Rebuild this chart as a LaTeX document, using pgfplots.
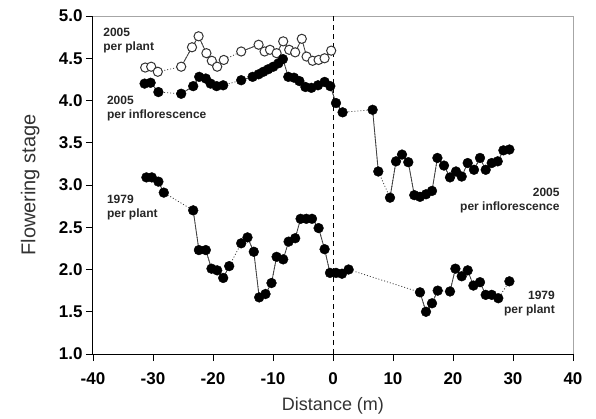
\documentclass[border=0pt]{standalone}
\usepackage{pgfplots}
\pgfplotsset{compat=1.18}
\usepackage{pgfplotstable}
\usepackage{fontspec}
\setmainfont{Liberation Sans}

% 2005 per plant (open circles); nan rows mark gaps (dotted links)
\pgfplotstableread{
x y
-31.3 4.39
-30.3 4.40
-29.2 4.34
nan nan
-25.3 4.40
-23.5 4.63
-22.4 4.76
-21.1 4.56
-20.2 4.47
-19.3 4.40
-18.2 4.48
nan nan
-15.3 4.58
-12.4 4.66
-11.4 4.58
-10.5 4.60
-9.4 4.56
-8.3 4.70
-7.3 4.60
-6.3 4.57
-5.2 4.73
-4.4 4.52
-3.4 4.47
-2.4 4.48
-1.4 4.50
-0.3 4.59
}\plantA

% 2005 per inflorescence
\pgfplotstableread{
x y
-31.4 4.20
-30.4 4.21
-29.1 4.10
nan nan
-25.3 4.08
-23.3 4.17
-22.3 4.28
-21.2 4.26
-20.4 4.20
-19.4 4.17
-18.3 4.18
nan nan
-15.3 4.24
-13.4 4.28
-12.4 4.31
-11.6 4.34
-10.8 4.37
-9.95 4.40
-9.1 4.44
-8.35 4.49
-7.45 4.28
-6.5 4.27
-5.6 4.23
-4.6 4.16
-3.6 4.15
-2.5 4.18
-1.4 4.22
-0.45 4.17
0.5 3.97
1.6 3.86
nan nan
6.6 3.89
7.55 3.16
nan nan
9.5 2.85
10.5 3.28
11.5 3.36
12.55 3.27
13.55 2.88
14.5 2.86
15.5 2.89
16.5 2.93
17.4 3.32
18.5 3.23
19.5 3.09
20.5 3.16
21.45 3.10
22.45 3.26
23.5 3.18
24.5 3.32
25.45 3.18
26.45 3.26
27.45 3.28
28.4 3.41
29.4 3.42
}\inflB

% 1979 per plant
\pgfplotstableread{
x y
-31.1 3.09
-30.2 3.09
-29.1 3.04
-28.2 2.91
nan nan
-23.3 2.70
-22.35 2.23
-21.2 2.23
-20.25 2.01
-19.3 1.99
-18.3 1.90
-17.3 2.04
nan nan
-15.3 2.31
-14.25 2.38
-13.2 2.21
-12.3 1.67
-11.25 1.71
-10.25 1.84
-9.4 2.15
-8.3 2.12
-7.4 2.33
-6.3 2.37
-5.4 2.60
-4.45 2.60
-3.5 2.60
-2.4 2.49
-1.4 2.24
-0.5 1.96
0.5 1.96
1.5 1.95
2.6 2.00
nan nan
14.5 1.73
15.5 1.50
16.5 1.60
17.45 1.75
nan nan
19.5 1.74
20.4 2.01
21.45 1.92
22.45 1.99
23.4 1.81
24.5 1.85
25.45 1.70
26.45 1.70
27.55 1.66
nan nan
29.4 1.86
}\plantC

\begin{document}
\begin{tikzpicture}
\useasboundingbox (-93pt,-64pt) rectangle (503pt,354pt);
\begin{axis}[
  scale only axis, width=480pt, height=338pt,
  xmin=-40, xmax=40, ymin=1, ymax=5,
  axis lines*=left,
  axis line style={black, line width=1pt},
  xtick={-40,-30,...,40}, ytick={1,1.5,...,5},
  yticklabel style={/pgf/number format/.cd, fixed, fixed zerofill, precision=1},
  xticklabel style={yshift=-8pt},
  tick align=outside, major tick length=7pt,
  tick style={black, line width=0.8pt},
  ticklabel style={font=\fontsize{17}{17}\selectfont\bfseries},
  /pgf/number format/assume math mode=true,
  xlabel={Distance (m)}, ylabel={Flowering stage},
  xlabel style={font=\fontsize{18}{18}\selectfont, text=black!80, at={(axis description cs:0.5,-0.153)}, anchor=center},
  ylabel style={font=\fontsize{20}{20}\selectfont, text=black!80, at={(axis description cs:-0.131,0.5)}, anchor=center},
  clip=false,
]
\draw[gray!70, line width=1pt] (rel axis cs:0,1) -- (rel axis cs:1,1) -- (rel axis cs:1,0);
\draw[black, line width=0.9pt, dash pattern=on 5pt off 4pt] (axis cs:0,1) -- (axis cs:0,5);

% 2005 per plant
\addplot[black!75, line width=0.8pt, dash pattern=on 1pt off 2pt] table {\plantA};
\addplot[black!75, line width=0.8pt, unbounded coords=jump] table {\plantA};
\addplot[only marks, mark=*, mark size=4.6pt, mark options={fill=white, draw=black!80, line width=1pt}] table {\plantA};

% 2005 per inflorescence
\addplot[black!75, line width=0.8pt, dash pattern=on 1pt off 2pt] table {\inflB};
\addplot[black!75, line width=0.8pt, unbounded coords=jump] table {\inflB};
\addplot[only marks, mark=*, mark size=4.9pt, mark options={fill=black, draw=black}] table {\inflB};

% 1979 per plant
\addplot[black!75, line width=0.8pt, dash pattern=on 1pt off 2pt] table {\plantC};
\addplot[black!75, line width=0.8pt, unbounded coords=jump] table {\plantC};
\addplot[only marks, mark=*, mark size=4.9pt, mark options={fill=black, draw=black}] table {\plantC};

\begin{scope}[every node/.style={font=\fontsize{12}{14}\selectfont\bfseries, text=black!85, inner sep=0pt}]
\node[anchor=west, align=left] at (axis cs:-38.3,4.715) {2005\\per plant};
\node[anchor=west, align=left] at (axis cs:-37.7,3.90) {2005\\per inflorescence};
\node[anchor=west, align=left] at (axis cs:-37.7,2.73) {1979\\per plant};
\node[anchor=east, align=right] at (axis cs:37.8,2.816) {2005\\per inflorescence};
\node[anchor=east, align=right] at (axis cs:37.0,1.593) {1979\\per plant};
\end{scope}
\end{axis}
\end{tikzpicture}
\end{document}
